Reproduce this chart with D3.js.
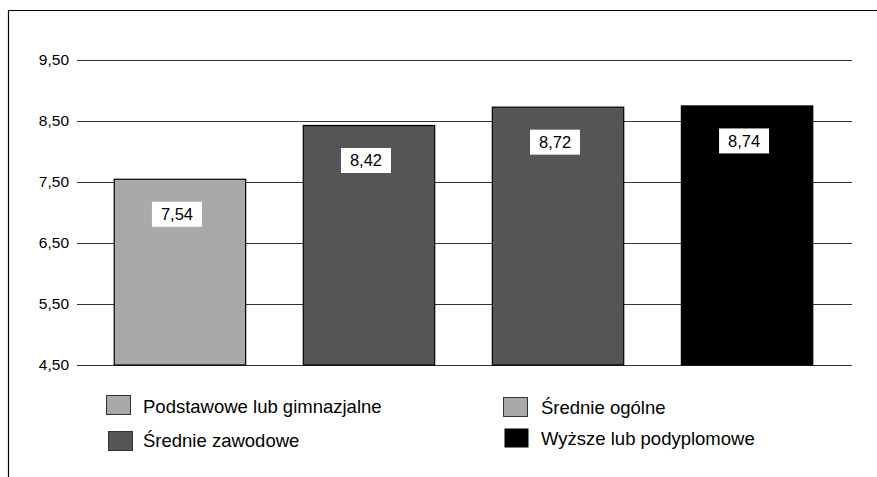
<!DOCTYPE html>
<html>
<head>
<meta charset="utf-8">
<script src="https://cdn.jsdelivr.net/npm/d3@7/dist/d3.min.js"></script>
<style>
  html, body { margin: 0; padding: 0; background: #fff; }
  svg { display: block; font-family: "Liberation Sans", Arial, sans-serif; }
</style>
</head>
<body>
<svg id="chart" width="877" height="477"></svg>
<script>
const categories = ["Podstawowe lub gimnazjalne", "Średnie zawodowe", "Średnie ogólne", "Wyższe lub podyplomowe"];
const values = [7.54, 8.42, 8.72, 8.74];
const barColors = ["#a9a9a9", "#555555", "#555555", "#000000"];
const legendColors = ["#a9a9a9", "#555555", "#a9a9a9", "#000000"];
const tickValues = [4.5, 5.5, 6.5, 7.5, 8.5, 9.5];
const tickLabels = ["4,50", "5,50", "6,50", "7,50", "8,50", "9,50"];
const valueLabels = ["7,54", "8,42", "8,72", "8,74"];

const svg = d3.select("#chart");

// frame lines
svg.append("line").attr("x1", 8.5).attr("x2", 8.5).attr("y1", 10).attr("y2", 477)
  .attr("stroke", "#000").attr("stroke-width", 1.2);
svg.append("line").attr("x1", 8).attr("x2", 877).attr("y1", 10.5).attr("y2", 10.5)
  .attr("stroke", "#000").attr("stroke-width", 1.2);

const y = d3.scaleLinear().domain([4.5, 9.5]).range([365, 59.5]);
const x = d3.scaleBand().domain(categories).range([84, 843]).paddingInner(0.305).paddingOuter(0.16);

// gridlines
const grid = svg.append("g");
grid.selectAll("line").data(tickValues).join("line")
  .attr("x1", 77).attr("x2", 852)
  .attr("y1", d => Math.round(y(d)) + 0.5).attr("y2", d => Math.round(y(d)) + 0.5)
  .attr("stroke", "#333").attr("stroke-width", 1.2);

// y axis labels via d3 axis
const yAxis = d3.axisLeft(y).tickValues(tickValues)
  .tickFormat((d, i) => tickLabels[i]).tickSize(0).tickPadding(0);
const ag = svg.append("g").attr("transform", "translate(69,0)").call(yAxis);
ag.select(".domain").remove();
ag.selectAll("text").attr("font-size", 15.5).attr("fill", "#000")
  .attr("font-family", "'Liberation Sans', Arial, sans-serif");

// bars
svg.append("g").selectAll("rect").data(categories).join("rect")
  .attr("x", d => x(d))
  .attr("y", (d, i) => y(values[i]))
  .attr("width", x.bandwidth())
  .attr("height", (d, i) => y(4.5) - y(values[i]))
  .attr("fill", (d, i) => barColors[i])
  .attr("stroke", "#000").attr("stroke-width", 1.2);

// value labels
const lg = svg.append("g");
categories.forEach((c, i) => {
  const cx = x(c) + x.bandwidth() / 2 - 3;
  const cy = y(values[i]) + 35;
  lg.append("rect").attr("x", cx - 25).attr("y", cy - 12.5).attr("width", 50).attr("height", 25)
    .attr("fill", "#fff");
  lg.append("text").attr("x", cx).attr("y", cy + 6).attr("text-anchor", "middle")
    .attr("font-size", 16.5).attr("fill", "#000").text(valueLabels[i]);
});

// legend
const legendPos = [
  {sx: 106, sy: 395, tx: 143, ty: 413},
  {sx: 108, sy: 431, tx: 143, ty: 447},
  {sx: 503, sy: 397, tx: 541, ty: 414},
  {sx: 504, sy: 428, tx: 541, ty: 445}
];
const leg = svg.append("g");
categories.forEach((c, i) => {
  const p = legendPos[i];
  leg.append("rect").attr("x", p.sx + 0.5).attr("y", p.sy + 0.5).attr("width", 24).attr("height", 19)
    .attr("fill", legendColors[i]).attr("stroke", i === 3 ? "none" : "#333").attr("stroke-width", 1);
  leg.append("text").attr("x", p.tx).attr("y", p.ty).attr("font-size", 18.5).attr("fill", "#000").text(c);
});
</script>
</body>
</html>
